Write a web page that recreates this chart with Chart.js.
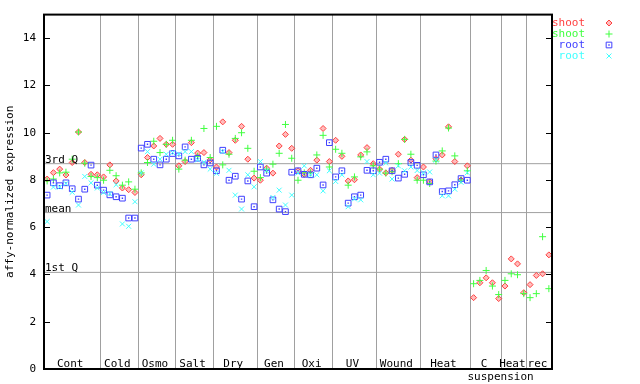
<!DOCTYPE html>
<html><head><meta charset="utf-8">
<script src="https://cdn.jsdelivr.net/npm/chart.js@4/dist/chart.umd.min.js"></script>
<style>html,body{margin:0;padding:0;background:#fff}#wrap{width:640px;height:384px}</style>
</head><body><div id="wrap"><canvas id="c" width="640" height="384"></canvas></div>
<script>
const groupNames = ['Cont','Cold','Osmo','Salt','Dry','Gen','Oxi','UV','Wound','Heat','C','Heat','rec'];
const groupSubNames = ['','','','','','','','','','','suspension','',''];
const groupSizes = [9,6,6,6,7,6,6,7,7,8,5,4,4];
const yTicks = [0,2,4,6,8,10,12,14];
const quartileValues = [8.69, 6.62, 4.09];
const quartileNames = ['3rd Q','mean','1st Q'];
const seriesNames = ['shoot','shoot','root','root'];

const shootRed = [8.04,8.31,8.46,8.21,8.74,10.03,8.74,8.24,8.22,
  8.13,8.64,7.96,7.66,7.59,7.47,
  8.22,8.95,9.44,9.76,9.51,9.51,
  8.60,8.78,9.58,9.14,9.16,8.85,
  8.55,10.46,9.16,9.68,10.27,8.88,8.08,
  7.99,8.50,8.29,9.44,9.93,9.34,
  8.39,8.24,8.41,8.84,10.18,8.78,
  9.68,9.00,7.96,8.01,9.06,9.37,8.69,
  8.46,8.30,8.41,9.09,9.72,8.84,8.10,
  8.55,7.92,8.90,9.06,10.25,8.78,8.00,8.60,
  3.02,3.65,3.86,3.65,2.98,
  3.51,4.66,4.45,3.23,
  3.57,3.96,4.03,4.83];
const shootGreen = [7.96,8.04,8.30,8.33,8.88,10.03,8.71,8.15,8.10,
  7.99,8.41,8.18,7.78,7.92,7.61,
  8.30,8.74,9.64,9.16,9.51,9.68,
  8.46,8.84,9.68,9.00,10.18,8.95,
  10.27,8.64,9.09,9.76,10.00,9.34,8.37,
  8.10,8.45,8.67,9.13,10.35,8.92,
  7.99,8.30,8.30,9.06,9.89,8.55,
  9.30,9.13,7.78,8.13,8.98,9.19,8.60,
  8.46,8.29,8.35,8.69,9.72,9.09,7.99,
  7.99,7.85,8.80,9.23,10.20,9.02,8.00,8.39,
  3.61,3.75,4.17,3.51,3.15,
  3.75,4.03,3.99,3.19,
  3.02,3.19,5.60,3.40];
const rootBlue = [7.36,7.88,7.76,7.88,7.63,7.19,7.61,8.63,7.78,
  7.57,7.37,7.29,7.23,6.39,6.39,
  9.35,9.51,8.88,8.64,8.88,9.12,
  9.02,9.40,8.88,8.92,8.64,8.72,
  8.39,9.26,7.99,8.16,7.19,7.96,6.87,
  8.55,8.29,7.16,6.77,6.66,8.33,
  8.39,8.24,8.22,8.50,7.79,9.58,
  8.13,8.39,7.02,7.29,7.36,8.41,8.39,
  8.75,8.88,8.39,8.08,8.24,8.74,8.62,
  8.22,7.92,9.06,7.51,7.54,7.80,8.06,7.99];
const rootCyan = [6.24,7.70,7.70,7.85,7.48,6.94,8.15,7.88,7.66,
  7.47,7.42,7.80,6.14,6.04,7.08,
  8.30,9.20,8.67,8.88,9.09,9.16,
  9.10,9.20,9.20,8.85,8.75,8.46,
  8.28,9.20,8.41,7.36,6.77,8.22,7.71,
  8.78,8.40,7.26,7.57,6.94,7.36,
  8.30,8.60,8.22,8.22,7.54,8.39,
  7.94,8.22,6.87,7.20,7.16,8.78,8.22,
  8.29,8.72,8.04,8.60,8.39,8.55,8.40,
  8.30,8.34,8.84,7.33,7.33,7.61,7.90,8.31];

const FONT = 'DejaVu Sans Mono';
const boundaries = groupSizes.reduce((a,n)=>{a.push(a[a.length-1]+n);return a;},[0]);
const total = boundaries[boundaries.length-1];
const toPts = arr => arr.map((v,i)=>({x:i+0.5,y:v}));

const styles = [
  {color:'#ff4040', pointStyle:'rectRot', radius:3, bg:'rgba(255,64,64,0.35)'},
  {color:'#40ff40', pointStyle:'cross', radius:3.5, bg:'transparent'},
  {color:'#4040ff', pointStyle:'rect', radius:4, bg:'transparent'},
  {color:'#40ffff', pointStyle:'crossRot', radius:3.5, bg:'transparent'}
];
const seriesData = [shootRed, shootGreen, rootBlue, rootCyan];

const datasets = [];
quartileValues.forEach(q=>{
  datasets.push({type:'line', data:[{x:0,y:q},{x:total,y:q}], borderColor:'#a0a0a0', borderWidth:1,
    pointRadius:0, showLine:true, order:20});
});
const orders = [4,3,2,0];
seriesData.forEach((arr,k)=>{
  const s = styles[k];
  datasets.push({data:toPts(arr), pointStyle:s.pointStyle, pointRadius:s.radius, borderColor:s.color,
    backgroundColor:s.bg, pointBorderWidth:1, borderWidth:1, order:orders[k]});
  if (k===2) {
    datasets.push({data:toPts(arr), pointStyle:'rect', pointRadius:1, borderColor:s.color,
      backgroundColor:s.color, pointBorderWidth:0, borderWidth:0, order:1});
  }
});

const decor = {
  id:'decor',
  afterDatasetsDraw(chart){
    const ctx = chart.ctx, a = chart.chartArea;
    const xs = chart.scales.x, ys = chart.scales.y;
    ctx.save();
    // quartile labels
    ctx.font = '11px "'+FONT+'"';
    ctx.fillStyle = '#000';
    ctx.textAlign = 'left'; ctx.textBaseline = 'alphabetic';
    quartileValues.forEach((q,i)=>{
      ctx.fillText(quartileNames[i], a.left+1, ys.getPixelForValue(q)-1);
    });
    // group labels
    ctx.textAlign = 'center';
    groupNames.forEach((g,i)=>{
      const c = xs.getPixelForValue((boundaries[i]+boundaries[i+1])/2) - 2;
      ctx.fillText(g, c, a.bottom-2);
      if (groupSubNames[i]) {
        ctx.textAlign = 'left';
        ctx.fillText(groupSubNames[i], xs.getPixelForValue(boundaries[i]) - 3, a.bottom+11);
        ctx.textAlign = 'center';
      }
    });
    // box
    ctx.strokeStyle = '#000'; ctx.lineWidth = 2;
    ctx.strokeRect(a.left, a.top, a.right-a.left, a.bottom-a.top);
    // inward ticks
    ctx.lineWidth = 1;
    ctx.beginPath();
    yTicks.forEach(t=>{
      const y = Math.round(ys.getPixelForValue(t))+0.5;
      ctx.moveTo(a.left, y); ctx.lineTo(a.left+6, y);
      ctx.moveTo(a.right, y); ctx.lineTo(a.right-6, y);
    });
    ctx.stroke();
    // legend
    ctx.textAlign = 'right'; ctx.textBaseline = 'middle';
    seriesNames.forEach((n,k)=>{
      const y = 23 + k*11;
      const s = styles[k];
      ctx.fillStyle = s.color;
      ctx.fillText(n, 585, y);
      ctx.strokeStyle = s.color; ctx.fillStyle = s.bg; ctx.lineWidth = 1;
      Chart.helpers.drawPoint(ctx, {pointStyle:s.pointStyle, radius:s.radius, borderWidth:1, rotation:0}, 609, y);
      if (k===2) {
        ctx.fillStyle = s.color;
        Chart.helpers.drawPoint(ctx, {pointStyle:'rect', radius:1, borderWidth:0, rotation:0}, 609, y);
      }
    });
    ctx.restore();
  }
};

new Chart(document.getElementById('c'), {
  type:'scatter',
  data:{datasets},
  options:{
    responsive:false, animation:false, devicePixelRatio:1, events:[],
    layout:{padding:{left:0, right:88, top:13, bottom:15}},
    plugins:{legend:{display:false}, tooltip:{enabled:false}},
    scales:{
      x:{type:'linear', min:0, max:total,
        afterBuildTicks:s=>{s.ticks = boundaries.map(v=>({value:v}));},
        ticks:{display:false},
        grid:{color:'#a0a0a0', lineWidth:1, drawTicks:false},
        border:{display:false},
        afterFit:s=>{s.height = 0;}
      },
      y:{type:'linear', min:0, max:15,
        afterBuildTicks:s=>{s.ticks = yTicks.map(v=>({value:v}));},
        ticks:{font:{family:FONT, size:11}, color:'#000', padding:8},
        grid:{display:false, drawTicks:false},
        border:{display:false},
        title:{display:true, text:'affy-normalized expression', font:{family:FONT, size:11}, color:'#000', padding:{top:4,bottom:0}},
        afterFit:s=>{s.width = 44;}
      }
    }
  },
  plugins:[decor]
});
</script>
</body></html>
